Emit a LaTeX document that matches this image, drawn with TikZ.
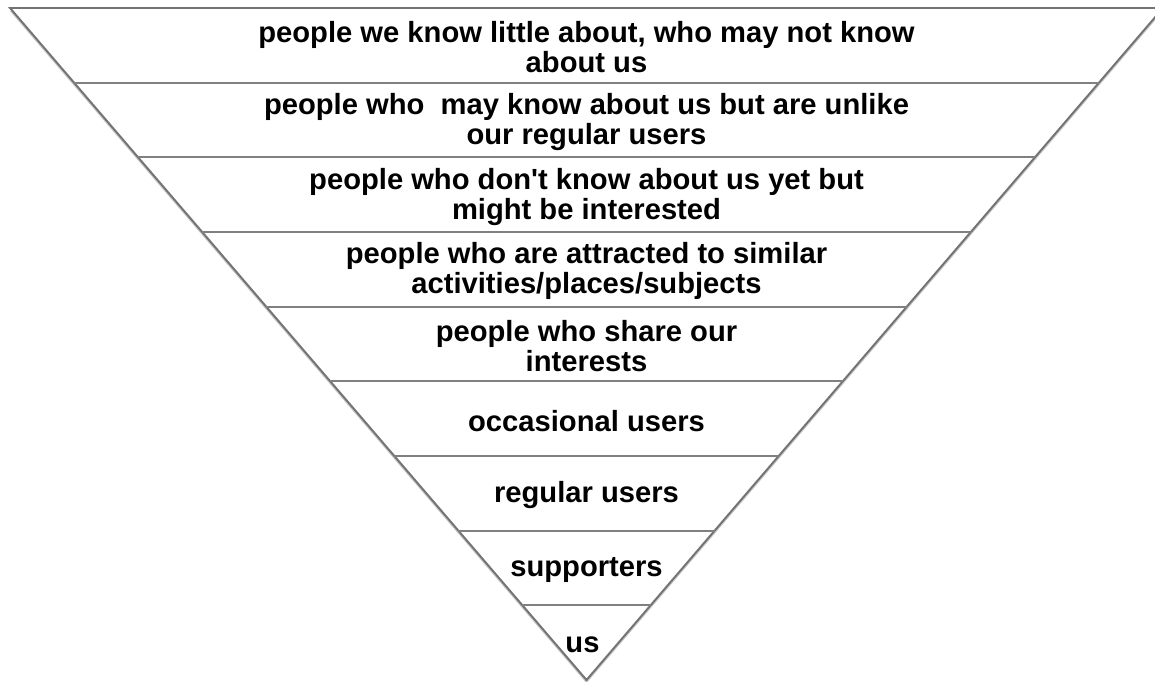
\documentclass[tikz,border=0pt]{standalone}
\usepackage{fontspec}
\setmainfont{Liberation Sans}
\usetikzlibrary{calc,shadows}

\begin{document}
\begin{tikzpicture}[x=0.02cm, y=-0.02cm,
    bandline/.style={draw=black!50, line width=1.1pt},
    bandtext/.style={align=center, inner sep=0pt,
      font=\fontsize{16.6}{17.2}\selectfont\bfseries}]

    \useasboundingbox (0,0) rectangle (1155,682);

    % Funnel outline
    \coordinate (tl) at (10,8);
    \coordinate (tr) at (1163,8);
    \coordinate (apex) at (586.5,680);
    \filldraw[fill=white, draw=black!55, line width=1.1pt,
      drop shadow={shadow xshift=0pt, shadow yshift=-1.8pt, opacity=0.45}]
      (tl) -- (tr) -- (apex) -- cycle;

    % Band lines
    \foreach \i in {1,...,8}
    {
        \draw[bandline] ($(tl)!\i/9!(apex)$) -- ($(tr)!\i/9!(apex)$);
    }

    % Band texts, widest at the top
    \foreach \i/\txt in {
        0/{people we know little about, who may not know\\about us},
        1/{people who~ may know about us but are unlike\\our regular users},
        2/{people who don\textquotesingle t know about us yet but\\might be interested},
        3/{people who are attracted to similar\\activities/places/subjects},
        4/{people who share our\\interests},
        5/{occasional users},
        6/{regular users},
        7/{supporters},
        8/{us}
    }
    {
        \node[bandtext] (band\i) at (586.5, {10+74.67*(\i+0.5)}) {\txt};
    }

\end{tikzpicture}
\end{document}
